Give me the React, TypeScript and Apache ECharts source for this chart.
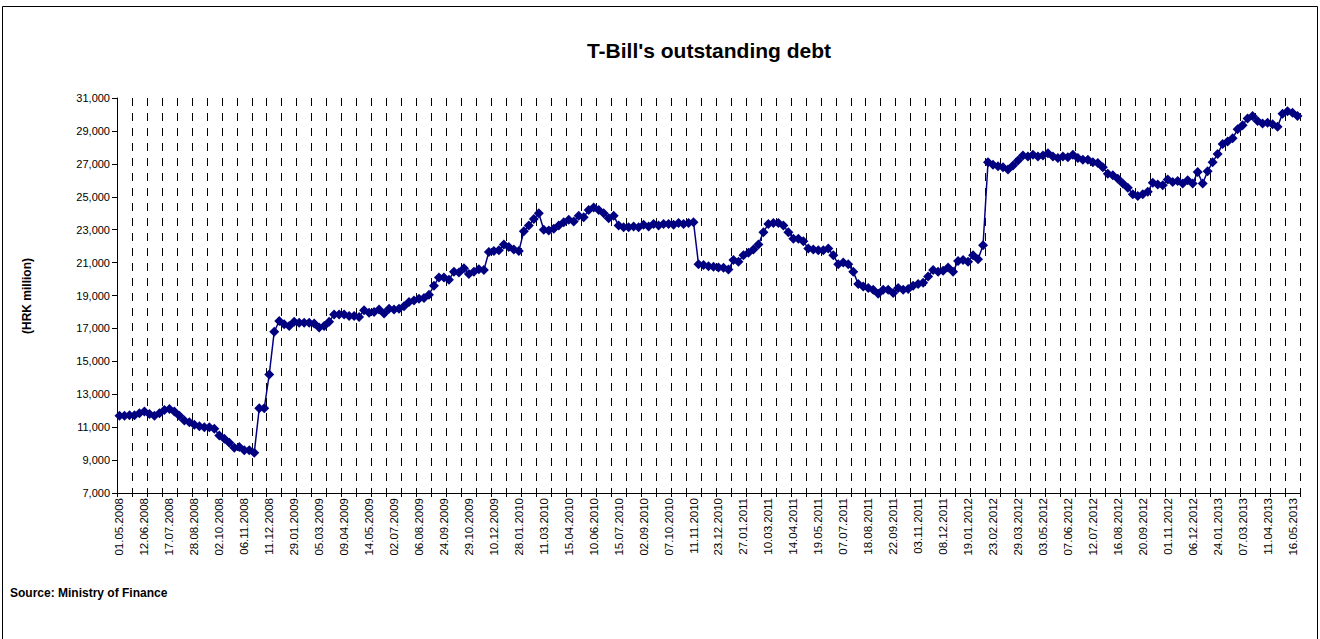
import React, { useEffect, useRef } from "react";
import * as echarts from "echarts";

const FONT = "'Liberation Sans', Arial, sans-serif";

// Visible category labels (every 5th auction)
const tickLabels = [
  "01.05.2008", "12.06.2008", "17.07.2008", "28.08.2008", "02.10.2008", "06.11.2008",
  "11.12.2008", "29.01.2009", "05.03.2009", "09.04.2009", "14.05.2009", "02.07.2009",
  "06.08.2009", "24.09.2009", "29.10.2009", "10.12.2009", "28.01.2010", "11.03.2010",
  "15.04.2010", "10.06.2010", "15.07.2010", "02.09.2010", "07.10.2010", "11.11.2010",
  "23.12.2010", "27.01.2011", "10.03.2011", "14.04.2011", "19.05.2011", "07.07.2011",
  "18.08.2011", "22.09.2011", "03.11.2011", "08.12.2011", "19.01.2012", "23.02.2012",
  "29.03.2012", "03.05.2012", "07.06.2012", "12.07.2012", "16.08.2012", "20.09.2012",
  "01.11.2012", "06.12.2012", "24.01.2013", "07.03.2013", "11.04.2013", "16.05.2013",
];

// T-Bill outstanding debt, HRK million
const debtPart1 = [
  11700, 11700, 11720, 11720, 11850, 11950, 11800, 11700, 11850, 12050,
  12100, 11950, 11700, 11400, 11300, 11150, 11050, 11000, 11000, 10900,
  10500, 10300, 10050, 9750, 9800, 9600, 9600, 9450, 12150, 12150,
  14200, 16800, 17450, 17250, 17150, 17400, 17350, 17350, 17350, 17300,
];
const debtPart2 = [
  17050, 17150, 17400, 17850, 17850, 17850, 17750, 17750, 17700, 18100,
  17950, 18000, 18150, 17900, 18200, 18150, 18200, 18350, 18600, 18700,
  18800, 18850, 19050, 19600, 20100, 20100, 19950, 20450, 20400, 20650,
  20300, 20450, 20600, 20550, 21650, 21700, 21750, 22100, 21950, 21800,
];
const debtPart3 = [
  21700, 22900, 23250, 23650, 24000, 23000, 22950, 23050, 23250, 23450,
  23600, 23500, 23850, 23750, 24200, 24350, 24200, 24000, 23700, 23850,
  23250, 23150, 23150, 23200, 23150, 23300, 23200, 23350, 23250, 23350,
  23350, 23300, 23400, 23350, 23400, 23450, 20900, 20850, 20780, 20750,
];
const debtPart4 = [
  20700, 20680, 20580, 21150, 21050, 21450, 21600, 21800, 22100, 22850,
  23350, 23400, 23400, 23250, 22850, 22450, 22450, 22300, 21850, 21800,
  21750, 21750, 21850, 21450, 20900, 21000, 20900, 20450, 19700, 19550,
  19450, 19350, 19100, 19350, 19350, 19150, 19450, 19350, 19400, 19600,
];
const debtPart5 = [
  19700, 19780, 20150, 20550, 20450, 20500, 20700, 20450, 21100, 21150,
  21050, 21450, 21200, 22050, 27100, 26950, 26850, 26800, 26650, 26900,
  27200, 27500, 27450, 27550, 27450, 27500, 27650, 27450, 27350, 27450,
  27400, 27550, 27350, 27250, 27250, 27100, 27050, 26800, 26400, 26300,
];
const debtPart6 = [
  26100, 25800, 25550, 25150, 25050, 25150, 25300, 25850, 25750, 25700,
  26050, 25900, 25950, 25800, 26000, 25800, 26500, 25800, 26550, 27100,
  27600, 28200, 28350, 28550, 29100, 29350, 29750, 29900, 29600, 29450,
  29500, 29400, 29250, 30050, 30200, 30100, 29900,
];

const yMin = 7000;
const yMax = 31000;
const yStep = 2000;

const debt = [...debtPart1, ...debtPart2, ...debtPart3, ...debtPart4, ...debtPart5, ...debtPart6];

function pad(n: number) {
  return n < 10 ? "0" + n : "" + n;
}

// full weekly category list built from the visible labels
const categories: string[] = debt.map((_, i) => {
  const base = tickLabels[Math.floor(i / 5)];
  const off = i % 5;
  if (off === 0) return base;
  const [d, m, y] = base.split(".").map(Number);
  const dt = new Date(Date.UTC(y, m - 1, d + off * 7));
  return pad(dt.getUTCDate()) + "." + pad(dt.getUTCMonth() + 1) + "." + dt.getUTCFullYear();
});

export default function App() {
  const ref = useRef<HTMLDivElement>(null);
  useEffect(() => {
    if (!ref.current) return;
    const chart = echarts.init(ref.current, undefined, { renderer: "svg" });
    chart.setOption({
      animation: false,
      backgroundColor: "#ffffff",
      grid: { left: 117, right: 20, top: 98, bottom: 146, containLabel: false },
      xAxis: {
        type: "category",
        data: categories,
        boundaryGap: true,
        axisLine: { lineStyle: { color: "#000", width: 1 } },
        axisTick: { show: true, interval: 2, length: 4, lineStyle: { color: "#000" } },
        axisLabel: {
          interval: 4,
          rotate: 90,
          fontSize: 11.5,
          fontFamily: FONT,
          color: "#000",
          margin: 5,
        },
        splitLine: {
          show: true,
          interval: 2,
          lineStyle: { color: "#000", width: 1, type: [8, 7] },
        },
      },
      yAxis: {
        type: "value",
        min: yMin,
        max: yMax,
        interval: yStep,
        axisLine: { show: true, lineStyle: { color: "#000", width: 1 } },
        axisTick: { show: true, length: 5, lineStyle: { color: "#000" } },
        axisLabel: {
          formatter: (v: number) => v.toLocaleString("en-US"),
          fontSize: 11,
          fontFamily: FONT,
          color: "#000",
          margin: 7,
        },
        splitLine: { show: false },
      },
      series: [
        {
          type: "line",
          data: debt,
          symbol: "diamond",
          symbolSize: 10,
          showAllSymbol: true,
          itemStyle: { color: "#000080" },
          lineStyle: { color: "#000080", width: 1.5 },
        },
      ],
      graphic: [
        {
          type: "rect",
          shape: { x: 2.5, y: 6.5, width: 1315, height: 700 },
          style: { fill: "none", stroke: "#000", lineWidth: 1 },
          silent: true,
        },
        {
          type: "text",
          x: 709,
          y: 50,
          style: {
            text: "T-Bill's outstanding debt",
            fontFamily: FONT,
            fontSize: 21,
            fontWeight: "bold",
            fill: "#000",
            align: "center",
            verticalAlign: "middle",
          },
        },
        {
          type: "text",
          x: 27,
          y: 296,
          rotation: Math.PI / 2,
          style: {
            text: "(HRK million)",
            fontFamily: FONT,
            fontSize: 12,
            fontWeight: "bold",
            fill: "#000",
            align: "center",
            verticalAlign: "middle",
          },
        },
        {
          type: "text",
          x: 10,
          y: 593,
          style: {
            text: "Source: Ministry of Finance",
            fontFamily: FONT,
            fontSize: 12,
            fontWeight: "bold",
            fill: "#000",
            align: "left",
            verticalAlign: "middle",
          },
        },
      ],
    });
    return () => chart.dispose();
  }, []);
  return (
    <div
      ref={ref}
      style={{ position: "fixed", left: 0, top: 0, width: 1320, height: 639, background: "#fff" }}
    />
  );
}
